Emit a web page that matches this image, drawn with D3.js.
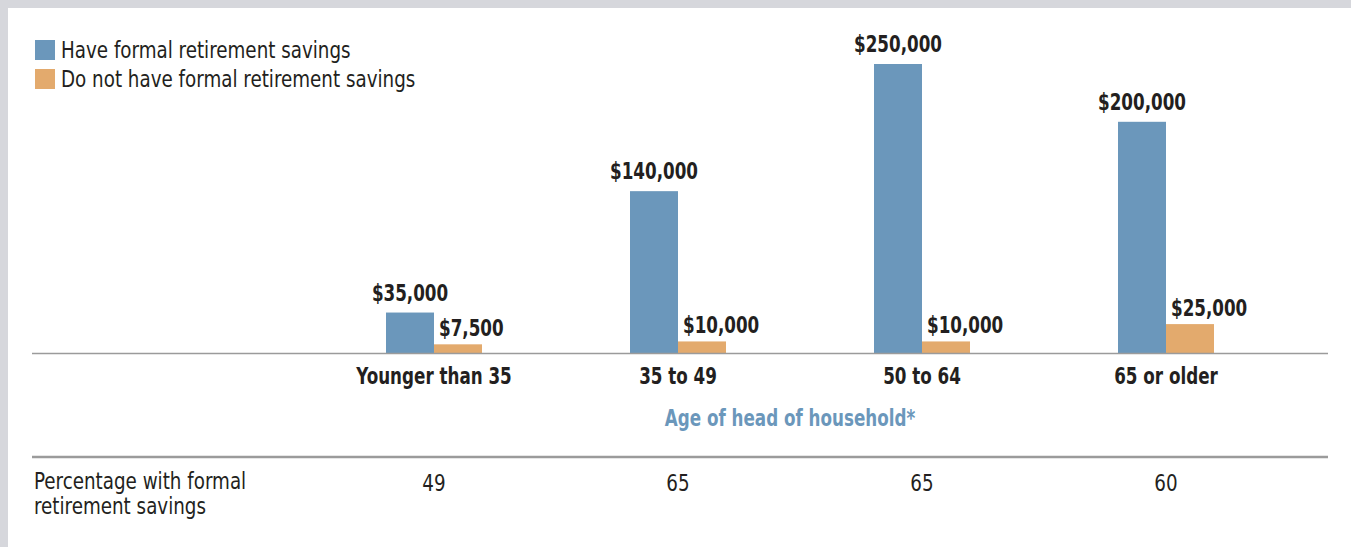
<!DOCTYPE html>
<html><head><meta charset="utf-8">
<script src="https://cdn.jsdelivr.net/npm/d3@7"></script>
<style>
html,body{margin:0;padding:0;background:#fff;}
svg{display:block;}
</style></head>
<body>
<svg id="chart" width="1351" height="547"></svg>
<script>
const categories = ["Younger than 35", "35 to 49", "50 to 64", "65 or older"];
const seriesNames = ["Have formal retirement savings", "Do not have formal retirement savings"];
const haveSavings = [35000, 140000, 250000, 200000];
const noSavings = [7500, 10000, 10000, 25000];
const haveLabels = ["$35,000", "$140,000", "$250,000", "$200,000"];
const noLabels = ["$7,500", "$10,000", "$10,000", "$25,000"];
const percentWith = ["49", "65", "65", "60"];
const xTitle = "Age of head of household*";
const rowTitle = ["Percentage with formal", "retirement savings"];

const colors = ["#6b97bb", "#e3aa6d"];
const FONT = "'DejaVu Sans Condensed', 'DejaVu Sans', sans-serif";
const REG_SX = 0.885, BOLD_SX = 0.81, FS = 23;
const TXT = "#231f20";
const svg = d3.select("#chart");

function addText(parent, x, y, str, opt = {}) {
  const bold = !!opt.bold;
  return parent.append("text")
    .attr("transform", `translate(${x},${y}) scale(${bold ? BOLD_SX : REG_SX},1)`)
    .attr("text-anchor", opt.anchor || "start")
    .attr("font-family", FONT).attr("font-size", FS)
    .attr("font-weight", bold ? "bold" : "normal")
    .attr("fill", opt.fill || TXT).text(str);
}

// background frame
svg.append("rect").attr("x",0).attr("y",0).attr("width",1351).attr("height",547).attr("fill","#d6d7dc");
svg.append("rect").attr("x",8).attr("y",8).attr("width",1343).attr("height",539).attr("fill","#fff");

const baseY = 353;
const x = d3.scaleBand().domain(categories).range([312, 1288]).paddingInner(0).paddingOuter(0);
const y = d3.scaleLinear().domain([0, 250000]).range([baseY, 64]);
const barW = 48;
const cx = c => x(c) + x.bandwidth()/2;

// legend
seriesNames.forEach((s,i)=>{
  const ly = 40 + i*29;
  svg.append("rect").attr("x",35).attr("y",ly).attr("width",20).attr("height",20).attr("fill",colors[i]);
  addText(svg, 61, ly+18, s);
});

// bars
const g = svg.append("g");
g.selectAll("rect.have").data(categories).join("rect").attr("class","have")
  .attr("x", c=>cx(c)-barW).attr("width",barW)
  .attr("y",(c,i)=>y(haveSavings[i])).attr("height",(c,i)=>baseY-y(haveSavings[i]))
  .attr("fill",colors[0]);
g.selectAll("rect.no").data(categories).join("rect").attr("class","no")
  .attr("x", c=>cx(c)).attr("width",barW)
  .attr("y",(c,i)=>y(noSavings[i])).attr("height",(c,i)=>baseY-y(noSavings[i]))
  .attr("fill",colors[1]);

// value labels
categories.forEach((c,i)=>{
  addText(g, cx(c)-barW/2, y(haveSavings[i])-12, haveLabels[i], {bold:true, anchor:"middle"});
  addText(g, cx(c)+5, y(noSavings[i])-8, noLabels[i], {bold:true});
});

// baseline axis
svg.append("line").attr("x1",32).attr("x2",1328).attr("y1",baseY+0.5).attr("y2",baseY+0.5)
  .attr("stroke","#9b9b9b").attr("stroke-width",1.5);

// category axis
const xAxis = svg.append("g").attr("transform",`translate(0,${baseY})`)
  .call(d3.axisBottom(x).tickSize(0).tickPadding(0));
xAxis.select(".domain").remove();
xAxis.selectAll("text").attr("y",0).attr("dy",0)
  .attr("transform",`translate(0,31) scale(${BOLD_SX},1)`)
  .attr("font-family",FONT).attr("font-weight","bold")
  .attr("font-size",FS).attr("fill",TXT);

// axis title
addText(svg, 790, 426, xTitle, {bold:true, anchor:"middle", fill:"#6b97bb"});

// table line
svg.append("line").attr("x1",32).attr("x2",1328).attr("y1",457).attr("y2",457)
  .attr("stroke","#9b9b9b").attr("stroke-width",2.5);

rowTitle.forEach((t,i)=> addText(svg, 34, 489+i*25, t));
categories.forEach((c,i)=> addText(svg, cx(c), 491, percentWith[i], {anchor:"middle"}));
</script>
</body></html>
